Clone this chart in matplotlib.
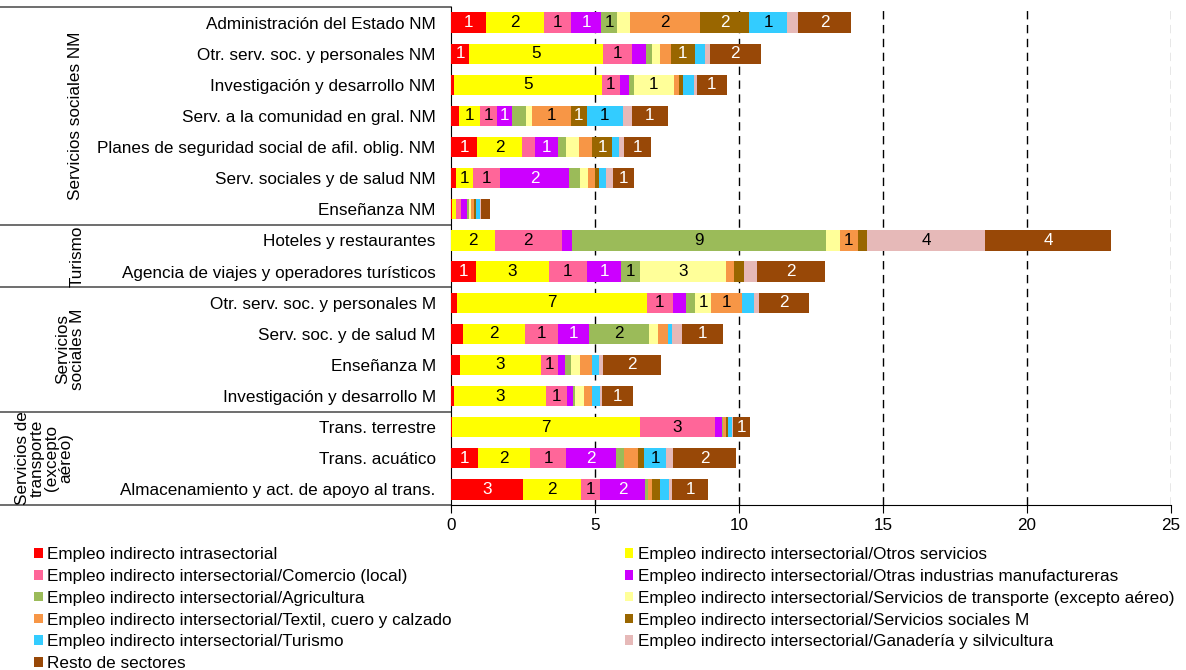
import numpy as np
import matplotlib
matplotlib.use("Agg")
import matplotlib.pyplot as plt
from matplotlib.patches import Patch
from matplotlib.transforms import blended_transform_factory

plt.rcParams['font.family'] = ['Liberation Sans', 'DejaVu Sans']

sectores = ["Administración del Estado NM",
            "Otr. serv. soc. y personales NM",
            "Investigación y desarrollo NM",
            "Serv. a la comunidad en gral. NM",
            "Planes de seguridad social de afil. oblig. NM",
            "Serv. sociales y de salud NM",
            "Enseñanza NM",
            "Hoteles y restaurantes",
            "Agencia de viajes y operadores turísticos",
            "Otr. serv. soc. y personales M",
            "Serv. soc. y de salud M",
            "Enseñanza M",
            "Investigación y desarrollo M",
            "Trans. terrestre",
            "Trans. acuático",
            "Almacenamiento y act. de apoyo al trans."]

grupos = ["Servicios sociales NM", "Turismo", "Servicios\nsociales M",
          "Servicios de\ntransporte\n(excepto\naéreo)"]
grupo_n = [7, 2, 4, 3]

series = ["Empleo indirecto intrasectorial",
          "Empleo indirecto intersectorial/Otros servicios",
          "Empleo indirecto intersectorial/Comercio (local)",
          "Empleo indirecto intersectorial/Otras industrias manufactureras",
          "Empleo indirecto intersectorial/Agricultura",
          "Empleo indirecto intersectorial/Servicios de transporte (excepto aéreo)",
          "Empleo indirecto intersectorial/Textil, cuero y calzado",
          "Empleo indirecto intersectorial/Servicios sociales M",
          "Empleo indirecto intersectorial/Turismo",
          "Empleo indirecto intersectorial/Ganadería y silvicultura",
          "Resto de sectores"]

intra      = [1.20, 0.63, 0.10, 0.29, 0.91, 0.17, 0.02, 0.00, 0.87, 0.21, 0.43, 0.32, 0.12, 0.05, 0.95, 2.51]
otros_serv = [2.04, 4.65, 5.14, 0.72, 1.55, 0.58, 0.17, 1.53, 2.54, 6.60, 2.15, 2.79, 3.18, 6.51, 1.79, 2.01]
comercio   = [0.93, 1.01, 0.63, 0.59, 0.45, 0.95, 0.16, 2.31, 1.30, 0.89, 1.15, 0.59, 0.74, 2.60, 1.27, 0.66]
otras_ind  = [1.05, 0.48, 0.32, 0.52, 0.80, 2.41, 0.19, 0.36, 1.21, 0.45, 1.07, 0.27, 0.20, 0.25, 1.72, 1.56]
agricult   = [0.54, 0.20, 0.16, 0.47, 0.29, 0.37, 0.08, 8.81, 0.65, 0.33, 2.07, 0.20, 0.07, 0.05, 0.29, 0.09]
transporte = [0.46, 0.29, 1.39, 0.22, 0.44, 0.27, 0.08, 0.48, 2.97, 0.55, 0.31, 0.31, 0.32, 0.00, 0.00, 0.00]
textil     = [2.42, 0.38, 0.16, 1.35, 0.47, 0.25, 0.10, 0.65, 0.28, 1.06, 0.35, 0.40, 0.27, 0.08, 0.47, 0.15]
soc_m      = [1.71, 0.82, 0.16, 0.56, 0.67, 0.13, 0.07, 0.29, 0.37, 0.00, 0.00, 0.00, 0.00, 0.07, 0.22, 0.28]
turismo    = [1.32, 0.37, 0.38, 1.24, 0.25, 0.24, 0.12, 0.00, 0.00, 0.42, 0.14, 0.25, 0.27, 0.14, 0.77, 0.30]
ganaderia  = [0.38, 0.15, 0.09, 0.31, 0.17, 0.24, 0.06, 4.12, 0.43, 0.20, 0.35, 0.15, 0.08, 0.05, 0.24, 0.12]
resto      = [1.85, 1.77, 1.05, 1.25, 0.93, 0.76, 0.31, 4.35, 2.35, 1.73, 1.43, 2.02, 1.06, 0.57, 2.17, 1.25]

datos = [intra, otros_serv, comercio, otras_ind, agricult, transporte,
         textil, soc_m, turismo, ganaderia, resto]
colores = ["#FF0000", "#FFFF00", "#FF6699", "#CC00FF", "#9BBB59", "#FFFF99",
           "#F79646", "#996600", "#33CCFF", "#E6B9B8", "#984807"]
texto_blanco = [True, False, False, True, False, False, False, True, False, False, True]

fs = 12.3

fig = plt.figure(figsize=(11.86, 6.70), dpi=100)
ax = fig.add_axes([451/1186, 1-505/670, 720/1186, 498/670])

y = np.arange(len(sectores))
izq = np.zeros(len(sectores))
for vals, col, blanco in zip(datos, colores, texto_blanco):
    vals = np.array(vals)
    ax.barh(y, vals, left=izq, height=0.65, color=col, zorder=3)
    for yi, (l, v) in enumerate(zip(izq, vals)):
        n = int(round(v))
        if n >= 1:
            ax.text(l + v/2, yi, str(n), ha="center", va="center", fontsize=fs,
                    color="white" if blanco else "black", zorder=4)
    izq += vals

ax.set_xlim(0, 25)
ax.set_ylim(len(sectores) - 0.5, -0.5)
ax.set_xticks([0, 5, 10, 15, 20, 25])
ax.set_yticks(y)
ax.set_yticklabels(sectores, fontsize=fs)
ax.tick_params(axis="y", length=0, pad=11)
ax.tick_params(axis="x", labelsize=fs, length=6, direction="out")
for x in [5, 10, 15, 20]:
    ax.axvline(x, color="black", lw=1, ls=(0, (6, 4)), zorder=1)
ax.axvline(25, color="#888888", lw=1, ls=(0, (6, 4)), zorder=1)
for s in ["top", "right"]:
    ax.spines[s].set_visible(False)

# lineas y etiquetas de grupos a la izquierda
tr = blended_transform_factory(ax.transAxes, ax.transData)
x0 = -451/720
limites = np.concatenate([[0], np.cumsum(grupo_n)]) - 0.5
for b in limites:
    ax.plot([x0, 0], [b, b], color="#555555", lw=1.2, transform=tr, clip_on=False)
xg = [75, 77, 70, 44]
for g, a, b, xp in zip(grupos, limites[:-1], limites[1:], xg):
    ax.text((xp - 451)/720, (a + b)/2, g, rotation=90, ha="center", va="center",
            fontsize=fs, multialignment="center", linespacing=0.95, transform=tr)

orden = [0, 2, 4, 6, 8, 10, 1, 3, 5, 7, 9]
handles = [Patch(facecolor=colores[i], label=series[i]) for i in orden]
fig.legend(handles=handles, ncol=2, loc="upper left",
           bbox_to_anchor=(34/1186, 1-547/670), frameon=False, fontsize=fs,
           handlelength=0.5, handleheight=0.5, handletextpad=0.25,
           labelspacing=0.4, columnspacing=10.15, borderpad=0, borderaxespad=0)

fig.savefig("out.png", dpi=100)
